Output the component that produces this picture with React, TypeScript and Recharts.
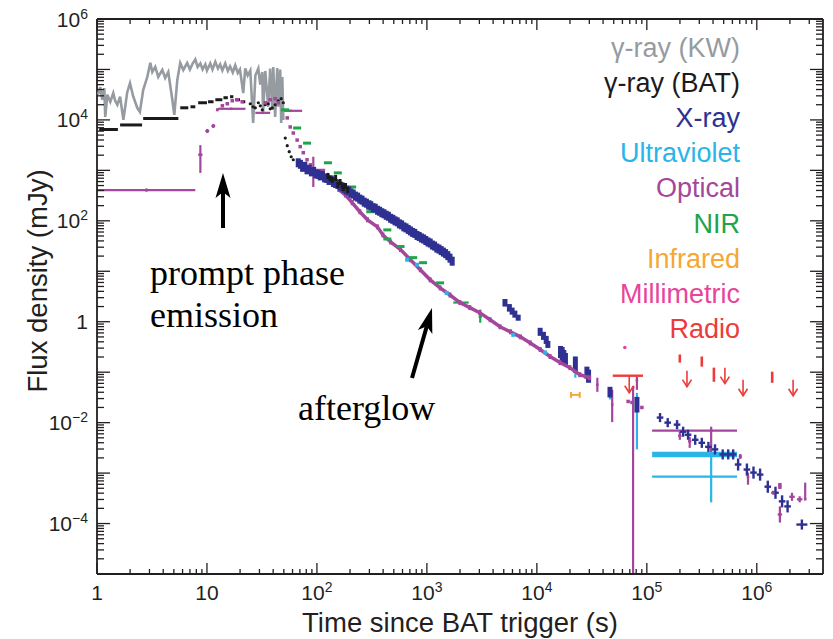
import React from 'react';
import { ComposedChart, Scatter, XAxis, YAxis, ErrorBar } from 'recharts';

// All values: [log10(time since BAT trigger / s), log10(flux density / mJy), ...]
type Pt = [number, number];
type ErrRow = [number, number, number, number, number, number]; // lt, lf, ltLo, ltHi, lfLo, lfHi

const kwCurve: Pt[] = [
  [0.01, 4.5], [0.03, 4.65], [0.048, 4.4], [0.066, 4.63], [0.075, 4.06], [0.094, 4.5], [0.121, 4.36], [0.148, 4.53],
  [0.165, 4.38], [0.185, 4.3], [0.21, 4.46], [0.24, 4.0], [0.275, 4.55], [0.3, 4.73], [0.33, 4.46], [0.366, 4.24],
  [0.39, 4.16], [0.42, 4.59], [0.457, 4.85], [0.485, 5.13], [0.503, 4.95], [0.53, 5.05], [0.557, 4.85], [0.594, 4.99],
  [0.62, 4.83], [0.648, 4.95], [0.685, 4.4], [0.703, 4.1], [0.73, 4.79], [0.757, 5.13], [0.785, 4.99], [0.82, 5.13],
  [0.845, 5.0], [0.866, 5.1], [0.894, 5.2], [0.915, 5.05], [0.94, 5.12], [0.96, 5.0], [0.985, 5.1], [1.0, 4.98],
  [1.03, 5.12], [1.05, 5.0], [1.076, 5.15], [1.1, 5.02], [1.12, 5.1], [1.14, 4.98], [1.166, 5.12], [1.19, 4.97],
  [1.21, 5.06], [1.235, 4.94], [1.257, 5.08], [1.28, 4.93], [1.3, 5.0], [1.33, 4.53], [1.348, 5.02], [1.37, 4.88],
  [1.394, 4.98], [1.42, 3.94], [1.44, 4.88], [1.467, 5.02], [1.485, 4.7], [1.503, 4.95], [1.51, 4.14], [1.53, 4.97],
  [1.557, 4.26], [1.575, 5.02], [1.594, 4.2], [1.603, 5.05], [1.62, 4.06], [1.639, 5.03], [1.648, 4.26], [1.666, 5.0],
  [1.675, 3.94], [1.685, 4.85], [1.694, 4.0],
];

// BAT time bins: [ltLo, ltHi, lf]
const batBins: [number, number, number][] = [
  [0.02, 0.19, 3.81], [0.21, 0.41, 3.9], [0.42, 0.74, 4.03], [0.757, 0.83, 4.24], [0.85, 0.894, 4.26],
  [0.92, 1.0, 4.34], [1.01, 1.06, 4.36], [1.076, 1.14, 4.4], [1.15, 1.19, 4.44], [1.21, 1.24, 4.46],
  [1.257, 1.3, 4.4], [1.32, 1.348, 4.36],
];
const batDots: Pt[] = [
  [1.394, 4.32], [1.42, 4.26], [1.44, 4.24], [1.467, 4.34], [1.485, 4.28], [1.503, 4.2], [1.53, 4.3], [1.557, 4.32],
  [1.575, 4.22], [1.594, 4.24], [1.62, 4.3], [1.648, 4.38], [1.675, 4.42], [1.694, 4.34],
  [1.712, 3.64], [1.73, 3.49], [1.748, 3.37], [1.766, 3.27], [1.785, 3.21],
];
const batLate: Pt[] = [
  [2.1, 2.89], [2.12, 2.84], [2.14, 2.81], [2.17, 2.85], [2.19, 2.71], [2.21, 2.77], [2.23, 2.7], [2.24, 2.65],
  [2.26, 2.69], [2.28, 2.61],
];

const xrayBand: Pt[] = [
  [1.83, 3.15], [1.85, 3.12], [1.87, 3.06], [1.89, 3.08], [1.91, 3.01], [1.93, 3.02], [1.95, 2.97], [1.97, 2.98],
  [1.99, 2.93], [2.01, 2.92], [2.03, 2.89], [2.05, 2.9], [2.07, 2.85], [2.09, 2.84], [2.11, 2.8], [2.13, 2.81],
  [2.15, 2.76], [2.17, 2.74], [2.19, 2.72], [2.21, 2.69], [2.23, 2.67], [2.25, 2.64], [2.27, 2.61], [2.29, 2.59],
  [2.31, 2.55], [2.33, 2.53], [2.35, 2.49], [2.37, 2.47], [2.39, 2.43], [2.41, 2.41], [2.43, 2.37], [2.45, 2.35],
  [2.47, 2.31], [2.49, 2.3], [2.51, 2.26], [2.53, 2.25], [2.55, 2.21], [2.57, 2.19], [2.59, 2.16], [2.61, 2.14],
  [2.63, 2.11], [2.65, 2.09], [2.67, 2.05], [2.69, 2.03], [2.71, 2.0], [2.73, 1.98], [2.75, 1.94], [2.77, 1.92],
  [2.79, 1.88], [2.81, 1.86], [2.83, 1.83], [2.85, 1.8], [2.87, 1.77], [2.89, 1.75], [2.91, 1.71], [2.93, 1.69],
  [2.95, 1.66], [2.97, 1.64], [2.99, 1.61], [3.01, 1.58], [3.03, 1.56], [3.05, 1.52], [3.07, 1.5], [3.09, 1.46],
  [3.11, 1.44], [3.13, 1.41], [3.15, 1.38], [3.17, 1.35], [3.19, 1.31], [3.21, 1.26], [3.23, 1.2],
];
// X-ray orbit segments: [lt, lf, lfLo, lfHi]
const xrayOrbits: [number, number, number, number][] = [
  [3.71, 0.38, 0.3, 0.45], [3.75, 0.28, 0.2, 0.35], [3.775, 0.22, 0.14, 0.28], [3.8, 0.16, 0.08, 0.22],
  [3.83, 0.08, 0.02, 0.14], [4.03, -0.2, -0.28, -0.12], [4.06, -0.28, -0.36, -0.2], [4.085, -0.36, -0.44, -0.28],
  [4.1, -0.44, -0.52, -0.38], [4.215, -0.58, -0.72, -0.48], [4.23, -0.62, -0.8, -0.5], [4.245, -0.68, -0.84, -0.56],
  [4.26, -0.74, -0.86, -0.62], [4.35, -0.86, -1.01, -0.69], [4.455, -0.95, -1.13, -0.89], [4.47, -1.05, -1.21, -0.95],
  [4.665, -1.4, -1.5, -1.29], [4.91, -1.66, -1.8, -1.49],
];
const xrayLate: ErrRow[] = [
  [5.12, -1.9, 5.09, 5.15, -1.99, -1.81], [5.19, -2.0, 5.16, 5.22, -2.09, -1.91], [5.275, -2.04, 5.245, 5.305, -2.13, -1.95],
  [5.33, -2.18, 5.3, 5.36, -2.28, -2.08], [5.375, -2.24, 5.345, 5.405, -2.34, -2.14], [5.44, -2.34, 5.41, 5.47, -2.44, -2.24],
  [5.5, -2.4, 5.47, 5.53, -2.5, -2.3], [5.56, -2.48, 5.53, 5.59, -2.58, -2.38], [5.62, -2.53, 5.59, 5.65, -2.63, -2.43],
  [5.69, -2.63, 5.66, 5.72, -2.73, -2.53], [5.74, -2.63, 5.71, 5.77, -2.73, -2.53], [5.785, -2.63, 5.755, 5.815, -2.73, -2.53],
  [5.83, -2.83, 5.8, 5.86, -2.95, -2.71], [5.91, -2.93, 5.88, 5.94, -3.05, -2.81], [5.97, -2.99, 5.94, 6.0, -3.11, -2.87],
  [6.03, -3.03, 6.0, 6.06, -3.15, -2.91], [6.1, -3.27, 6.07, 6.13, -3.39, -3.15], [6.17, -3.39, 6.14, 6.2, -3.51, -3.27],
  [6.23, -3.56, 6.2, 6.26, -3.68, -3.44], [6.28, -3.66, 6.25, 6.31, -3.78, -3.54], [6.41, -4.02, 6.36, 6.46, -4.12, -3.92],
];

const opticalBars: ErrRow[] = [
  [0.45, 2.61, 0.0, 0.894, 2.58, 2.64], [0.94, 3.31, 0.92, 0.96, 2.95, 3.5], [1.003, 3.78, 0.985, 1.02, 3.74, 3.82],
  [1.058, 3.88, 1.04, 1.075, 3.84, 3.92], [1.094, 4.2, 1.094, 1.094, 4.17, 4.23], [1.22, 4.22, 1.1, 1.35, 4.22, 4.22],
  [1.51, 4.14, 1.44, 1.575, 4.14, 4.14], [1.76, 4.18, 1.666, 1.866, 4.18, 4.18], [1.967, 3.01, 1.848, 2.075, 2.67, 3.27],
  [4.55, -1.25, 4.55, 4.55, -1.39, -1.11], [4.685, -1.64, 4.685, 4.685, -1.99, -1.35], [4.875, -1.3, 4.875, 4.875, -5.0, -1.29],
  [4.91, -1.16, 4.91, 4.91, -1.35, -1.09], [5.585, -2.16, 5.048, 5.82, -2.6, -2.08], [5.3, -2.26, 5.285, 5.315, -2.34, -2.18],
  [5.39, -2.37, 5.375, 5.405, -2.5, -2.28], [5.85, -2.67, 5.835, 5.865, -2.72, -2.62], [5.92, -3.08, 5.92, 5.92, -3.23, -2.99],
  [6.15, -3.39, 6.13, 6.17, -3.43, -3.35], [6.21, -3.82, 6.19, 6.23, -3.98, -3.66], [6.32, -3.47, 6.295, 6.345, -3.55, -3.39],
  [6.39, -3.52, 6.365, 6.415, -3.58, -3.46], [6.44, -3.52, 6.44, 6.44, -3.52, -3.19],
];
const opticalDots: Pt[] = [
  [1.14, 4.28], [1.185, 4.32], [1.23, 4.38], [1.275, 4.4], [1.32, 4.36], [1.53, 4.34], [1.575, 4.4], [1.62, 4.42],
  [1.648, 4.34], [1.73, 4.04], [1.757, 3.86], [1.785, 3.74], [1.82, 3.6], [1.848, 3.47], [1.876, 3.35], [1.91, 3.21],
  [1.94, 3.11], [4.83, -1.58], [4.865, -1.6], [4.955, -1.7], [6.21, -3.23], [6.21, -3.28],
];
const opticalTrack: Pt[] = [
  [2.2, 2.62], [2.26, 2.51], [2.32, 2.36], [2.39, 2.18], [2.46, 2.02], [2.55, 1.88], [2.6, 1.72], [2.67, 1.58],
  [2.76, 1.43], [2.85, 1.23], [2.94, 1.03], [3.03, 0.83], [3.12, 0.67], [3.21, 0.53], [3.3, 0.38], [3.39, 0.28],
  [3.48, 0.18], [3.575, 0.04], [3.665, -0.1], [3.76, -0.2], [3.85, -0.3], [3.94, -0.42], [4.03, -0.55], [4.12, -0.69],
  [4.21, -0.81], [4.3, -0.91], [4.39, -1.05], [4.48, -1.11],
];

const nirDashes: Pt[] = [
  [1.71, 4.2], [1.82, 3.84], [1.91, 3.54], [2.1, 3.15], [2.19, 2.95], [2.32, 2.67], [2.46, 2.38], [2.485, 2.18],
  [2.64, 1.82], [2.64, 1.64], [2.76, 1.49], [2.875, 1.27], [2.965, 1.17], [3.12, 0.77],
];
const nirBars: ErrRow[] = [
  [3.31, 0.38, 3.24, 3.38, 0.38, 0.38], [3.485, 0.1, 3.47, 3.5, -0.02, 0.24],
];

const uvDots: Pt[] = [[2.82, 1.23], [2.91, 1.13], [3.18, 0.57], [3.785, -0.26], [4.075, -0.61]];
const uvBars: ErrRow[] = [
  [4.35, -0.89, 4.35, 4.35, -1.11, -0.69], [4.665, -1.4, 4.665, 4.665, -1.54, -1.31], [4.91, -1.55, 4.91, 4.91, -2.53, -1.41],
  [5.585, -3.07, 5.048, 5.82, -3.58, -2.63],
];
const uvWide: ErrRow[] = [[5.585, -2.63, 5.048, 5.82, -2.63, -2.63]];

const infrared: ErrRow[] = [[4.35, -1.45, 4.31, 4.39, -1.48, -1.42]];
const millimetric: Pt[] = [[4.8, -0.51]];

// Radio detections: [lt, lf, lfLo, lfHi]; radio upper limits: [lt, lf]
const radioBars: [number, number, number, number][] = [
  [5.3, -0.73, -0.81, -0.65], [5.5, -0.79, -0.89, -0.69], [5.61, -1.05, -1.19, -0.91], [6.14, -1.1, -1.21, -0.99],
];
const radioLimits: Pt[] = [[5.365, -0.97], [5.71, -0.91], [5.875, -1.15], [6.33, -1.15]];
const radioWideLimit: ErrRow[] = [[4.84, -1.07, 4.69, 4.965, -1.07, -1.07]];

const legendNames = ['γ-ray (KW)', 'γ-ray (BAT)', 'X-ray', 'Ultraviolet', 'Optical', 'NIR', 'Infrared', 'Millimetric', 'Radio'];

// ---------- styling / helpers ----------
const C = {
  kw: '#959ba1', bat: '#1b1b1b', xray: '#2e3192', uv: '#29b5e8', opt: '#a4479c', nir: '#1fa44b',
  ir: '#f5a833', mm: '#e8449a', radio: '#ec3b3b',
};
const legendColors = [C.kw, C.bat, C.xray, C.uv, C.opt, C.nir, C.ir, C.mm, C.radio];
const AX = { left: 97, right: 823, top: 19, bottom: 574 };
const INK = '#231f20';
const SANS = '"Liberation Sans", Arial, Helvetica, sans-serif';

const pts = (a: Pt[]) => a.map(([lt, lf]) => ({ t: 10 ** lt, f: 10 ** lf }));
const errs = (a: ErrRow[]) =>
  a.map(([lt, lf, xl, xh, yl, yh]) => {
    const t = 10 ** lt;
    const f = 10 ** lf;
    return { t, f, ex: [t - 10 ** xl, 10 ** xh - t], ey: [f - 10 ** yl, 10 ** yh - f] };
  });
const vbars = (a: [number, number, number, number][]) =>
  errs(a.map(([lt, lf, lo, hi]) => [lt, lf, lt, lt, lo, hi] as ErrRow));

const kwData = pts(kwCurve);
const batBinData = errs(batBins.map(([lo, hi, lf]) => [(lo + hi) / 2, lf, lo, hi, lf, lf] as ErrRow));
const batDotData = pts(batDots);
const batLateData = pts(batLate);
const xrayBandData = pts(xrayBand);
const xrayOrbitData = vbars(xrayOrbits);
const xrayLateData = errs(xrayLate);
const optBarData = errs(opticalBars);
const optDotData = pts(opticalDots);
const optTrackData = pts(opticalTrack);
const nirDashData = pts(nirDashes);
const nirBarData = errs(nirBars);
const uvDotData = pts(uvDots);
const uvBarData = errs(uvBars);
const uvWideData = errs(uvWide);
const irData = errs(infrared);
const mmData = pts(millimetric);
const radioBarData = vbars(radioBars);
const radioLimitData = pts(radioLimits);
const radioWideData = errs(radioWideLimit);

const makeTicks = (lo: number, hi: number, max: number) => {
  const out: number[] = [];
  for (let e = lo; e <= hi; e++) for (let k = 1; k <= 9; k++) {
    const v = Number((k * 10 ** e).toPrecision(6));
    if (v <= max) out.push(v);
  }
  return out;
};
const xTicks = makeTicks(0, 6, 3.5e6);
const yTicks = makeTicks(-5, 6, 1e6);
const decadeOf = (v: number) => {
  const l = Math.log10(v);
  return Math.abs(l - Math.round(l)) < 1e-6 ? Math.round(l) : null;
};

const PowLabel = ({ x, y, e, anchor }: { x: number; y: number; e: number; anchor: 'middle' | 'end' }) => (
  <text x={x} y={y} textAnchor={anchor} fontFamily={SANS} fontSize={21} fill={INK}>
    {e === 0 ? '1' : e === 1 ? '10' : (
      <>
        <tspan>10</tspan>
        <tspan dy={-8} fontSize={14}>{e < 0 ? '\u2212' + -e : String(e)}</tspan>
      </>
    )}
  </text>
);

const BottomTick = (p: any) => {
  const e = decadeOf(p.payload.value);
  const x = p.x;
  return (
    <g>
      <line x1={x} x2={x} y1={AX.bottom} y2={AX.bottom - (e !== null ? 11 : 5)} stroke={INK} strokeWidth={1.3} />
      {e !== null && <PowLabel x={x} y={AX.bottom + 26} e={e} anchor="middle" />}
    </g>
  );
};
const TopTick = (p: any) => {
  const e = decadeOf(p.payload.value);
  return <line x1={p.x} x2={p.x} y1={AX.top} y2={AX.top + (e !== null ? 11 : 5)} stroke={INK} strokeWidth={1.3} />;
};
const LeftTick = (p: any) => {
  const e = decadeOf(p.payload.value);
  const y = p.y;
  return (
    <g>
      <line x1={AX.left} x2={AX.left + (e !== null ? 13 : 7)} y1={y} y2={y} stroke={INK} strokeWidth={1.3} />
      {e !== null && e % 2 === 0 && <PowLabel x={AX.left - 9} y={y + 7.5} e={e} anchor="end" />}
    </g>
  );
};
const RightTick = (p: any) => {
  const e = decadeOf(p.payload.value);
  return <line x1={AX.right} x2={AX.right - (e !== null ? 13 : 7)} y1={p.y} y2={p.y} stroke={INK} strokeWidth={1.3} />;
};

const nothing = () => <g />;
const box = (w: number, h: number, c: string) => (p: any) =>
  p.cx == null ? <g /> : <rect x={p.cx - w / 2} y={p.cy - h / 2} width={w} height={h} fill={c} />;
const dot = (r: number, c: string) => (p: any) => (p.cx == null ? <g /> : <circle cx={p.cx} cy={p.cy} r={r} fill={c} />);
const downArrow = (c: string, len: number) => (p: any) =>
  p.cx == null ? <g /> : (
    <g stroke={c} strokeWidth={1.6} fill="none">
      <line x1={p.cx} y1={p.cy} x2={p.cx} y2={p.cy + len} />
      <polyline points={`${p.cx - 4.5},${p.cy + len - 7} ${p.cx},${p.cy + len} ${p.cx + 4.5},${p.cy + len - 7}`} />
    </g>
  );

const Arrow = ({ x1, y1, x2, y2 }: { x1: number; y1: number; x2: number; y2: number }) => {
  const dx = x2 - x1;
  const dy = y2 - y1;
  const L = Math.hypot(dx, dy);
  const ux = dx / L;
  const uy = dy / L;
  const px = -uy;
  const py = ux;
  const hl = 25;
  const hw = 7.5;
  const notch = 6;
  const bx = x2 - ux * hl;
  const by = y2 - uy * hl;
  const poly = [
    [x2, y2], [bx + px * hw, by + py * hw], [bx + ux * notch, by + uy * notch], [bx - px * hw, by - py * hw],
  ].map((q) => q.join(',')).join(' ');
  return (
    <g>
      <line x1={x1} y1={y1} x2={bx + ux * notch} y2={by + uy * notch} stroke="#000" strokeWidth={4} />
      <polygon points={poly} fill="#000" />
    </g>
  );
};

const NA = { isAnimationActive: false } as const;
const AXLINE = { stroke: INK, strokeWidth: 1.8 };

export default function App() {
  return (
    <div style={{ position: 'absolute', left: 0, top: 0, width: 833, height: 639, background: '#fff' }}>
      <ComposedChart width={833} height={639}
        margin={{ top: AX.top - 1, right: 833 - AX.right - 1, bottom: 639 - AX.bottom - 1, left: AX.left - 1 }}>
        <XAxis dataKey="t" type="number" scale="log" domain={[1, 4e6]} allowDataOverflow ticks={xTicks} interval={0}
          height={1} tickSize={0} tickMargin={0} tickLine={false} tick={BottomTick} axisLine={AXLINE} />
        <XAxis xAxisId="top" orientation="top" dataKey="t" type="number" scale="log" domain={[1, 4e6]} allowDataOverflow
          ticks={xTicks} interval={0} height={1} tickSize={0} tickMargin={0} tickLine={false} tick={TopTick} axisLine={AXLINE} />
        <YAxis dataKey="f" type="number" scale="log" domain={[1e-5, 1e6]} allowDataOverflow ticks={yTicks} interval={0}
          width={1} tickSize={0} tickMargin={0} tickLine={false} tick={LeftTick} axisLine={AXLINE} />
        <YAxis yAxisId="right" orientation="right" dataKey="f" type="number" scale="log" domain={[1e-5, 1e6]} allowDataOverflow
          ticks={yTicks} interval={0} width={1} tickSize={0} tickMargin={0} tickLine={false} tick={RightTick} axisLine={AXLINE} />

        <Scatter data={kwData} fill={C.kw} line={{ stroke: C.kw, strokeWidth: 2.6 }} shape={nothing} {...NA} />
        <Scatter data={batBinData} fill={C.bat} shape={nothing} {...NA}>
          <ErrorBar dataKey="ex" direction="x" width={0} stroke={C.bat} strokeWidth={3} {...NA} />
        </Scatter>
        <Scatter data={batDotData} fill={C.bat} shape={dot(1.6, C.bat)} {...NA} />

        <Scatter data={optTrackData} fill={C.opt} line={{ stroke: C.opt, strokeWidth: 3.5 }} shape={box(3, 5, C.opt)} {...NA} />
        <Scatter data={optBarData} fill={C.opt} shape={box(2.5, 2.5, C.opt)} {...NA}>
          <ErrorBar dataKey="ex" direction="x" width={0} stroke={C.opt} strokeWidth={2.2} {...NA} />
          <ErrorBar dataKey="ey" direction="y" width={0} stroke={C.opt} strokeWidth={2.2} {...NA} />
        </Scatter>
        <Scatter data={optDotData} fill={C.opt} shape={box(3.5, 3.5, C.opt)} {...NA} />

        <Scatter data={nirDashData} fill={C.nir} shape={box(8, 3, C.nir)} {...NA} />
        <Scatter data={nirBarData} fill={C.nir} shape={nothing} {...NA}>
          <ErrorBar dataKey="ex" direction="x" width={0} stroke={C.nir} strokeWidth={2.2} {...NA} />
          <ErrorBar dataKey="ey" direction="y" width={0} stroke={C.nir} strokeWidth={2.2} {...NA} />
        </Scatter>

        <Scatter data={uvDotData} fill={C.uv} shape={box(4, 4, C.uv)} {...NA} />
        <Scatter data={uvBarData} fill={C.uv} shape={nothing} {...NA}>
          <ErrorBar dataKey="ex" direction="x" width={0} stroke={C.uv} strokeWidth={2.2} {...NA} />
          <ErrorBar dataKey="ey" direction="y" width={0} stroke={C.uv} strokeWidth={2.2} {...NA} />
        </Scatter>
        <Scatter data={uvWideData} fill={C.uv} shape={nothing} {...NA}>
          <ErrorBar dataKey="ex" direction="x" width={0} stroke={C.uv} strokeWidth={5.5} {...NA} />
        </Scatter>

        <Scatter data={xrayBandData} fill={C.xray} shape={box(5, 9, C.xray)} {...NA} />
        <Scatter data={xrayOrbitData} fill={C.xray} shape={nothing} {...NA}>
          <ErrorBar dataKey="ey" direction="y" width={0} stroke={C.xray} strokeWidth={5} {...NA} />
        </Scatter>
        <Scatter data={xrayLateData} fill={C.xray} shape={nothing} {...NA}>
          <ErrorBar dataKey="ex" direction="x" width={0} stroke={C.xray} strokeWidth={2.4} {...NA} />
          <ErrorBar dataKey="ey" direction="y" width={0} stroke={C.xray} strokeWidth={2.4} {...NA} />
        </Scatter>
        <Scatter data={batLateData} fill={C.bat} shape={box(3, 6, C.bat)} {...NA} />

        <Scatter data={irData} fill={C.ir} shape={nothing} {...NA}>
          <ErrorBar dataKey="ex" direction="x" width={3} stroke={C.ir} strokeWidth={2} {...NA} />
        </Scatter>
        <Scatter data={mmData} fill={C.mm} shape={dot(1.8, C.mm)} {...NA} />

        <Scatter data={radioBarData} fill={C.radio} shape={nothing} {...NA}>
          <ErrorBar dataKey="ey" direction="y" width={0} stroke={C.radio} strokeWidth={2.6} {...NA} />
        </Scatter>
        <Scatter data={radioLimitData} fill={C.radio} shape={downArrow(C.radio, 16)} {...NA} />
        <Scatter data={radioWideData} fill={C.radio} shape={downArrow(C.radio, 17)} {...NA}>
          <ErrorBar dataKey="ex" direction="x" width={0} stroke={C.radio} strokeWidth={2.4} {...NA} />
        </Scatter>
      </ComposedChart>

      <svg width={833} height={639} style={{ position: 'absolute', left: 0, top: 0, pointerEvents: 'none' }}>
        {legendNames.map((n, i) => (
          <text key={n} x={740} y={57 + 35.1 * i} textAnchor="end" fontFamily={SANS} fontSize={27} fill={legendColors[i]}>
            {n}
          </text>
        ))}
        <text x={460} y={632} textAnchor="middle" fontFamily={SANS} fontSize={27.5} fill={INK}>Time since BAT trigger (s)</text>
        <text x={47} y={281} textAnchor="middle" fontFamily={SANS} fontSize={27.5} fill={INK} transform="rotate(-90 47 281)">
          Flux density (mJy)
        </text>
        <g fontFamily='"Liberation Serif", "Times New Roman", serif' fontSize={36} fill="#000">
          <text x={150} y={285}>prompt phase</text>
          <text x={150} y={327}>emission</text>
          <text x={298} y={420}>afterglow</text>
        </g>
        <Arrow x1={223} y1={228} x2={223} y2={173} />
        <Arrow x1={412} y1={378} x2={432} y2={308} />
      </svg>
    </div>
  );
}
